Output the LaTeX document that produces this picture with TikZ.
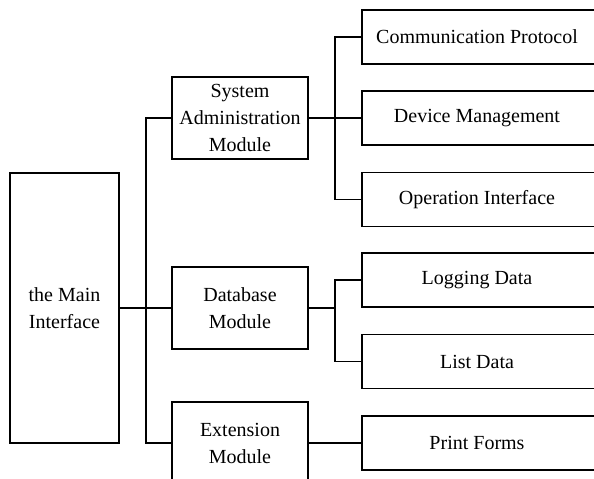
\documentclass[tikz,border=0pt]{standalone}
\usepackage{fontspec}
\setmainfont{Liberation Serif}
\usepackage{tikz}
\usetikzlibrary{positioning}

\begin{document}
\begin{tikzpicture}[x=0.5pt, y=-0.5pt, line width=0.6pt,
  font=\fontsize{10}{13.5}\selectfont, every node/.style={align=center},
  box/.style={draw, line width=0.6pt, inner sep=0pt},
  mainbox/.style={box, minimum width=54.5pt, minimum height=135pt},
  modbox/.style={box, minimum width=68pt, minimum height=41pt},
  leafbox/.style={box, minimum width=118pt, minimum height=27pt}]
  \useasboundingbox (0,0) rectangle (594,478);
  \clip (0,0) rectangle (594,478);

  % Boxes
  \node[mainbox] (main) at (64.5,308) {the Main\\Interface};
  \node[modbox] (sys) at (240,118) {System\\Administration\\Module};
  \node[modbox] (db)  at (240,308) {Database\\Module};
  \node[modbox] (ext) at (240,443) {Extension\\Module};

  \node[leafbox] (comm)  at (480,37)    {\hspace{-3pt}Communication Protocol};
  \node[leafbox] (dev)   at (480,118)   {\hspace{-3pt}Device Management};
  \node[leafbox] (oper)  at (480,199.5) {\hspace{-3pt}Operation Interface};
  \node[leafbox] (logd)  at (480,280)   {\hspace{-3pt}Logging Data};
  \node[leafbox] (listd) at (480,361.5) {\hspace{-3pt}List Data};
  \node[leafbox] (print) at (480,443)   {\hspace{-3pt}Print Forms};

  \coordinate (trunk) at (146,0);
  \coordinate (branch) at (335,0);

  % Lines
  \draw (main.east) -- (db.west);
  \draw (sys.west) -- (sys.west -| trunk) -- (ext.west -| trunk) -- (ext.west);
  \draw (sys.east) -- (dev.west);
  \draw (comm.west) -- (comm.west -| branch) -- (oper.west -| branch) -- (oper.west);
  \draw (db.east) -- (db.east -| branch);
  \draw (logd.west) -- (logd.west -| branch) -- (listd.west -| branch) -- (listd.west);
  \draw (ext.east) -- (print.west);
\end{tikzpicture}
\end{document}
